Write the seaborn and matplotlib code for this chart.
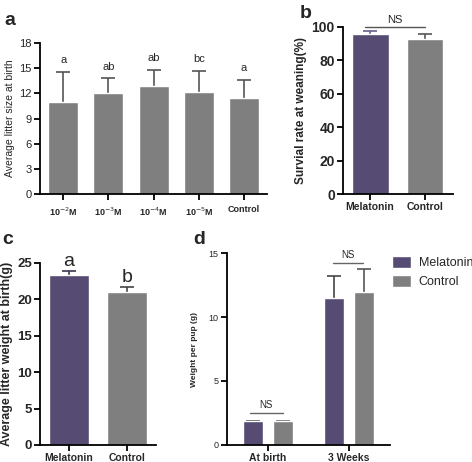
import numpy as np
import pandas as pd
import matplotlib
matplotlib.use('Agg')
import matplotlib.pyplot as plt
import seaborn as sns

sns.set_style('ticks')
plt.rcParams['font.family'] = ['Liberation Sans', 'DejaVu Sans']

PURPLE = '#564b72'
GRAY = '#7f7f7f'

# ---- data ----
dose_labels = ['10$^{-2}$M', '10$^{-3}$M', '10$^{-4}$M', '10$^{-5}$M', 'Control']
litter_size = [11.0, 12.0, 12.9, 12.2, 11.5]
litter_size_err = [3.6, 1.8, 1.9, 2.5, 2.1]
litter_letters = ['a', 'ab', 'ab', 'bc', 'a']

groups = ['Melatonin', 'Control']
survival = [95.5, 93.0]
survival_err = [2.0, 2.5]

litter_weight = [23.3, 21.0]
litter_weight_err = [0.6, 0.7]
weight_letters = ['a', 'b']

timepoints = ['At birth', '3 Weeks']
pup_mel = [1.85, 11.5]
pup_mel_err = [0.05, 1.7]
pup_ctl = [1.85, 12.0]
pup_ctl_err = [0.05, 1.8]


def style_ax(ax):
    sns.despine(ax=ax)
    for s in ['left', 'bottom']:
        ax.spines[s].set_linewidth(1.3)
        ax.spines[s].set_color('black')
    ax.tick_params(width=1.3, length=4, color='black', pad=2)


def up_err(ax, xs, ys, errs, color):
    # symmetric bars drawn behind the bars, so only the upper half shows
    ax.errorbar(xs, ys, yerr=errs, fmt='none',
                ecolor=color, elinewidth=1.2, capsize=5, capthick=1.2, zorder=0.5)


fig = plt.figure(figsize=(4.72, 4.62), dpi=100)

# ---- panel a ----
ax = fig.add_axes([0.085, 0.580, 0.481, 0.327])
df_a = pd.DataFrame({'dose': dose_labels, 'size': litter_size})
sns.barplot(data=df_a, x='dose', y='size', color=GRAY, saturation=1,
            width=0.66, errorbar=None, ax=ax)
up_err(ax, range(5), litter_size, litter_size_err, '#555555')
for i, (v, e, t) in enumerate(zip(litter_size, litter_size_err, litter_letters)):
    ax.text(i, v + e + 0.8, t, ha='center', va='bottom', fontsize=8)
ax.set_ylim(0, 18)
ax.set_yticks(range(0, 19, 3))
ax.set_xlim(-0.51, 4.51)
ax.set_xlabel('')
ax.set_ylabel('Average litter size at birth', fontsize=7.5, labelpad=3)
ax.tick_params(axis='y', labelsize=8)
ax.tick_params(axis='x', labelsize=6.5)
for lab in ax.get_xticklabels():
    lab.set_fontweight('bold')
style_ax(ax)
ax.tick_params(axis='x', pad=4)
fig.text(0.01, 0.975, 'a', fontsize=14, fontweight='bold', va='top')

# ---- panel b ----
ax = fig.add_axes([0.727, 0.580, 0.233, 0.362])
df_b = pd.DataFrame({'group': groups, 'rate': survival})
sns.barplot(data=df_b, x='group', y='rate', hue='group', palette=[PURPLE, GRAY],
            saturation=1, width=0.67, errorbar=None, legend=False, ax=ax)
up_err(ax, [0], survival[:1], survival_err[:1], '#6a5f8a')
up_err(ax, [1], survival[1:], survival_err[1:], '#555555')
ax.plot([-0.1, 1.0], [100, 100], color='#555555', lw=1, clip_on=False)
ax.text(0.45, 101, 'NS', ha='center', va='bottom', fontsize=8)
ax.set_ylim(0, 100)
ax.set_xlim(-0.49, 1.51)
ax.set_yticks(range(0, 101, 20))
ax.set_xlabel('')
ax.set_ylabel('Survial rate at weaning(%)', fontsize=8.5, fontweight='bold', labelpad=3)
ax.tick_params(axis='y', labelsize=10)
ax.tick_params(axis='x', labelsize=7.5)
for lab in ax.get_xticklabels() + ax.get_yticklabels():
    lab.set_fontweight('bold')
style_ax(ax)
fig.text(0.635, 0.99, 'b', fontsize=14, fontweight='bold', va='top')

# ---- panel c ----
ax = fig.add_axes([0.085, 0.037, 0.245, 0.394])
df_c = pd.DataFrame({'group': groups, 'weight': litter_weight})
sns.barplot(data=df_c, x='group', y='weight', hue='group', palette=[PURPLE, GRAY],
            saturation=1, width=0.69, errorbar=None, legend=False, ax=ax)
up_err(ax, [0], litter_weight[:1], litter_weight_err[:1], '#3d3552')
up_err(ax, [1], litter_weight[1:], litter_weight_err[1:], '#444444')
for i, (v, e, t) in enumerate(zip(litter_weight, litter_weight_err, weight_letters)):
    ax.text(i, v + e + 0.1, t, ha='center', va='bottom', fontsize=14)
ax.set_ylim(0, 25)
ax.set_xlim(-0.5, 1.5)
ax.set_yticks(range(0, 26, 5))
ax.set_xlabel('')
ax.set_ylabel('Average litter weight at birth(g)', fontsize=9, fontweight='bold', labelpad=3)
ax.tick_params(axis='y', labelsize=9.5)
ax.tick_params(axis='x', labelsize=7.5)
for lab in ax.get_xticklabels() + ax.get_yticklabels():
    lab.set_fontweight('bold')
style_ax(ax)
fig.text(0.005, 0.50, 'c', fontsize=14, fontweight='bold', va='top')

# ---- panel d ----
ax = fig.add_axes([0.481, 0.037, 0.345, 0.415])
df_d = pd.DataFrame({
    'time': timepoints * 2,
    'group': ['Melatonin'] * 2 + ['Control'] * 2,
    'weight': pup_mel + pup_ctl,
})
sns.barplot(data=df_d, x='time', y='weight', hue='group', palette=[PURPLE, GRAY],
            saturation=1, width=0.74, gap=0.32, errorbar=None, ax=ax)
xs = np.arange(len(timepoints))
up_err(ax, xs - 0.185, pup_mel, pup_mel_err, '#444444')
up_err(ax, xs + 0.185, pup_ctl, pup_ctl_err, '#555555')
ax.plot([-0.22, 0.185], [2.5, 2.5], color='#666666', lw=1)
ax.text(-0.02, 2.75, 'NS', ha='center', va='bottom', fontsize=7)
ax.plot([0.8, 1.17], [14.2, 14.2], color='#666666', lw=1)
ax.text(0.985, 14.45, 'NS', ha='center', va='bottom', fontsize=7)
ax.set_ylim(0, 15)
ax.set_xlim(-0.506, 1.506)
ax.set_yticks([0, 5, 10, 15])
ax.set_xlabel('')
ax.set_ylabel('Weight per pup (g)', fontsize=6, fontweight='bold', labelpad=8)
ax.tick_params(axis='y', labelsize=6.5)
ax.tick_params(axis='x', labelsize=7.5)
for lab in ax.get_xticklabels():
    lab.set_fontweight('bold')
style_ax(ax)
ax.legend(loc='upper left', bbox_to_anchor=(1.0, 1.0), frameon=False,
          fontsize=9, handlelength=1.5, handleheight=1.1, handletextpad=0.6,
          borderaxespad=0, borderpad=0.2)
fig.text(0.41, 0.50, 'd', fontsize=14, fontweight='bold', va='top')

fig.savefig('out.png', dpi=100)
